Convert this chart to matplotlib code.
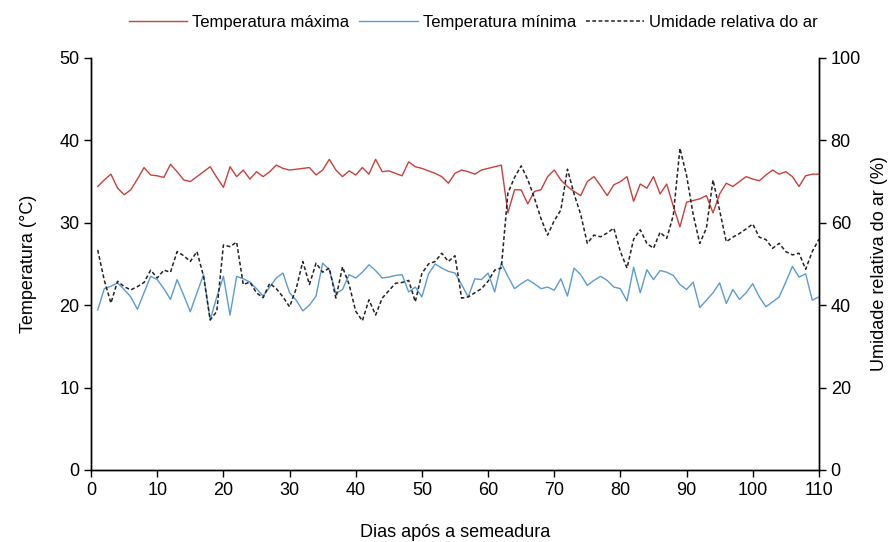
import numpy as np
import matplotlib
matplotlib.use('Agg')
import matplotlib.pyplot as plt

plt.rcParams['font.family'] = ['Liberation Sans', 'DejaVu Sans']

dias = np.arange(1, 111)

temp_max = [34.4, 35.2, 35.9, 34.2, 33.4, 34.0, 35.3, 36.7, 35.8, 35.7,
            35.5, 37.1, 36.2, 35.2, 35.0, 35.6, 36.2, 36.8, 35.5, 34.3,
            36.8, 35.6, 36.4, 35.3, 36.2, 35.6, 36.2, 37.0, 36.6, 36.4,
            36.5, 36.6, 36.7, 35.8, 36.4, 37.7, 36.4, 35.6, 36.3, 35.8,
            36.7, 35.9, 37.7, 36.2, 36.3, 36.0, 35.7, 37.4, 36.8, 36.6,
            36.3, 36.0, 35.6, 34.8, 36.0, 36.4, 36.2, 35.9, 36.4, 36.6,
            36.8, 37.0, 31.2, 34.0, 34.0, 32.3, 33.8, 34.0, 35.6, 36.4,
            35.2, 34.4, 33.8, 33.3, 35.0, 35.6, 34.5, 33.3, 34.6, 35.0,
            35.6, 32.6, 34.7, 34.2, 35.6, 33.5, 34.7, 32.0, 29.5, 32.5,
            32.7, 32.9, 33.3, 31.2, 33.5, 34.8, 34.4, 35.0, 35.6, 35.3,
            35.1, 35.8, 36.4, 35.9, 36.2, 35.6, 34.4, 35.7, 35.9, 35.9]

temp_min = [19.4, 22.0, 22.3, 22.7, 21.9, 21.0, 19.5, 21.5, 23.5, 23.1,
            22.0, 20.7, 23.1, 21.2, 19.2, 21.5, 23.7, 18.2, 21.0, 23.5,
            18.8, 23.5, 23.2, 22.8, 22.0, 21.1, 22.2, 23.3, 23.9, 21.5,
            20.6, 19.3, 20.0, 21.1, 25.1, 24.3, 21.4, 21.9, 23.7, 23.3,
            24.0, 24.9, 24.2, 23.3, 23.4, 23.6, 23.7, 21.6, 22.2, 21.0,
            23.8, 25.0, 24.5, 24.1, 23.9, 22.5, 21.0, 23.2, 23.1, 23.9,
            21.6, 25.1, 23.5, 22.0, 22.6, 23.1, 22.6, 22.0, 22.2, 21.8,
            23.2, 21.1, 24.5, 23.7, 22.4, 23.0, 23.5, 23.0, 22.2, 22.0,
            20.5, 24.6, 21.5, 24.3, 23.1, 24.2, 24.0, 23.6, 22.5, 21.9,
            22.8, 19.7, 20.6, 21.5, 22.7, 20.2, 21.9, 20.7, 21.5, 22.6,
            21.0, 19.8, 20.4, 21.0, 22.8, 24.7, 23.4, 23.8, 20.6, 21.0]

umidade = [53.4, 46.0, 40.5, 45.8, 44.5, 43.7, 44.5, 45.5, 48.5, 46.6,
           48.5, 48.0, 53.0, 52.0, 50.6, 53.0, 47.0, 36.4, 38.5, 54.6,
           54.2, 55.3, 45.0, 45.6, 43.0, 41.8, 45.3, 44.0, 42.0, 39.6,
           44.0, 50.6, 45.0, 50.2, 48.0, 49.0, 41.7, 49.3, 45.0, 38.5,
           36.2, 41.3, 37.6, 41.7, 43.5, 45.3, 45.5, 46.0, 40.8, 47.7,
           50.0, 50.6, 52.6, 50.6, 52.0, 41.7, 42.0, 43.0, 44.0, 45.8,
           48.5, 49.0, 67.2, 71.0, 73.8, 70.5, 66.0, 61.0, 57.0, 60.5,
           63.1, 73.0, 67.0, 62.0, 55.0, 57.0, 56.6, 57.5, 58.7, 53.0,
           49.0, 56.0, 58.3, 55.0, 53.8, 57.7, 56.2, 61.8, 78.1, 71.5,
           62.0, 55.0, 58.7, 70.4, 63.0, 55.4, 56.5, 57.4, 58.5, 59.7,
           56.5, 55.9, 53.8, 55.0, 53.0, 52.2, 52.6, 48.7, 53.0, 56.0]

fig = plt.figure(figsize=(8.93, 5.42), dpi=100)
ax = fig.add_axes([0.102, 0.133, 0.815, 0.760])
ax2 = ax.twinx()

l1, = ax.plot(dias, temp_max, color='#C9403D', lw=1.0, label='Temperatura máxima')
l2, = ax.plot(dias, temp_min, color='#5B9BD5', lw=1.0, label='Temperatura mínima')
l3, = ax2.plot(dias, umidade, color='#222222', lw=1.1, ls=(0, (2.5, 1.6)),
               label='Umidade relativa do ar')

ax.set_xlim(0, 110)
ax.set_ylim(0, 50)
ax2.set_ylim(0, 100)
ax.set_xticks(np.arange(0, 111, 10))
ax.set_yticks(np.arange(0, 51, 10))
ax2.set_yticks(np.arange(0, 101, 20))

for a in (ax, ax2):
    a.spines['top'].set_visible(False)
    for s in a.spines.values():
        s.set_linewidth(1.0)
        s.set_color('#000000')
    a.tick_params(labelsize=13, direction='out', length=5, width=1, colors='#000000')

ax.set_ylabel('Temperatura (°C)', fontsize=13, labelpad=16)
ax2.set_ylabel('Umidade relativa do ar (%)', fontsize=13, labelpad=7)
ax.set_xlabel('Dias após a semeadura', fontsize=13, labelpad=18)

fig.legend(handles=[l1, l2, l3], loc='upper center', bbox_to_anchor=(0.53, 1.0),
           ncol=3, frameon=False, fontsize=12, handlelength=3.5,
           columnspacing=0.6, handletextpad=0.3)

fig.savefig('out.png', dpi=100)
